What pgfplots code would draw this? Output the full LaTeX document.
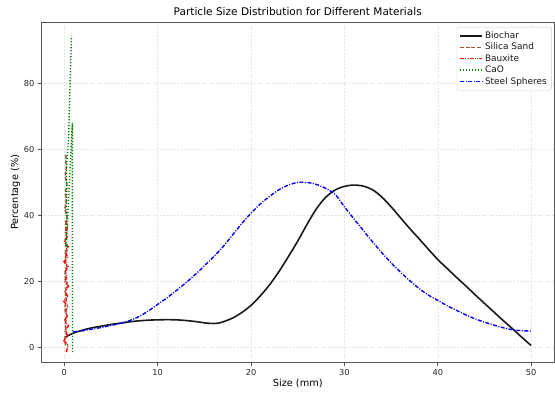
\documentclass[border=0pt]{standalone}
\usepackage{pgfplots}
\pgfplotsset{compat=1.18}
\usepackage{fontspec}
\setmainfont{DejaVu Sans}
\definecolor{sienna}{HTML}{A0522D}
\definecolor{mgreen}{HTML}{008000}
\definecolor{spine}{HTML}{555555}
\begin{document}
\begin{tikzpicture}
\begin{axis}[
  name=ax,
  scale only axis,
  width=514bp, height=341bp,
  xmin=-2.5, xmax=52.5, ymin=-4.7, ymax=98.7,
  xtick={0,10,20,30,40,50},
  ytick={0,20,40,60,80},
  tick align=outside,
  major tick length=3bp,
  tick style={spine, line width=0.6bp},
  axis line style={spine, line width=0.7bp},
  xtick pos=bottom, ytick pos=left,
  /pgf/number format/assume math mode=true,
  tick label style={font=\fontsize{8.3}{10}\selectfont, text=black!85},
  grid=major,
  major grid style={gray!22, dash pattern=on 2bp off 1.5bp, line width=0.5bp},
  title={Particle Size Distribution for Different Materials},
  title style={font=\fontsize{10.6}{13}\selectfont, yshift=-3bp},
  xlabel={Size (mm)},
  ylabel={Percentage (\%)},
  label style={font=\fontsize{9.8}{12}\selectfont},
  xlabel style={yshift=3bp},
  ylabel style={yshift=-3bp},
  legend style={at={(1,1)}, anchor=north east, xshift=-3bp, yshift=-5bp,
    draw=gray!40, rounded corners=2pt, font=\fontsize{9}{10}\selectfont,
    row sep=-0.8bp, inner sep=2.5bp, text=black!90},
  legend cell align=left,
  legend image code/.code={\draw[#1] (0bp,0bp) -- (15bp,0bp); \path (0bp,0bp) -- (22bp,0bp);},
  clip=true,
]
% Biochar
\addplot[black!90, line width=1.6bp, smooth, tension=0.5] coordinates {
(0.05,3.0) (1,4.3) (2,5.2) (3,5.9) (4,6.4) (5,6.9) (6,7.3) (7,7.7) (8,8.0) (9,8.2)
(10,8.3) (11,8.35) (12,8.3) (13,8.1) (14,7.8) (15,7.4) (15.5,7.25) (16,7.2) (16.5,7.3)
(17,7.7) (18,8.8) (19,10.5) (20,12.7) (21,15.6) (22,19.0) (23,23) (24,27.5) (25,32.2)
(26,37.3) (27,42) (28,45.5) (29,47.7) (30,48.8) (31,49.2) (32,48.9) (33,47.8) (34,45.6)
(35,42.6) (36,39.3) (37,36) (38,32.9) (39,29.7) (40,26.6) (41,23.9) (42,21.2) (43,18.6)
(44,15.9) (45,13.3) (46,10.7) (47,8.1) (48,5.6) (49,3.0) (50,0.5)
};
\addlegendentry{Biochar}
% Silica Sand
\addplot[sienna, line width=1.4bp, dash pattern=on 4bp off 1.6bp] coordinates {
(0.15,0.5) (0.05,2.5) (0.25,4.5) (0.10,7) (0.28,9.5) (0.06,12) (0.22,14.5) (0.12,17)
(0.30,19.5) (0.05,22) (0.24,24.5) (0.11,27) (0.29,29.5) (0.08,32) (0.23,34.5) (0.13,37)
(0.30,39.5) (0.06,42) (0.21,44.5) (0.12,47) (0.27,49.5) (0.09,52) (0.22,54.5) (0.15,56.5) (0.18,58.5)
};
\addlegendentry{Silica Sand}
% Bauxite
\addplot[red, line width=1.4bp, dash pattern=on 4bp off 1.2bp on 1bp off 1.2bp on 1bp off 1.2bp] coordinates {
(0.20,-1.5) (0.42,0.5) (-0.05,2) (0.35,3.5) (0.05,5) (0.45,6.5) (0.00,8) (0.30,9.5)
(0.10,11) (0.40,12.5) (-0.08,14) (0.33,15.5) (0.08,17) (0.44,18.5) (0.02,20) (0.28,21.5)
(0.12,23) (0.40,24.5) (-0.04,26) (0.35,27.5) (0.06,29) (0.42,30.5) (0.01,32) (0.30,33.5)
(0.10,35) (0.38,36.5) (0.15,38.5)
};
\addlegendentry{Bauxite}
% CaO
\addplot[mgreen, line width=1.4bp, dash pattern=on 1.2bp off 1.8bp] coordinates {
(0.88,-1.5) (0.88,10) (0.87,25) (0.87,40) (0.87,55) (0.86,68)
(0.20,30) (0.30,36) (0.18,42) (0.28,48) (0.22,53) (0.32,58) (0.45,63) (0.52,70)
(0.60,78) (0.68,86) (0.77,94.5)
};
\addlegendentry{CaO}
% Steel Spheres
\addplot[blue, line width=1.4bp, dash pattern=on 4bp off 1.5bp on 1bp off 1.5bp, smooth, tension=0.5] coordinates {
(0.95,4.7) (1.5,4.8) (2,5.0) (3,5.5) (4,6.0) (5,6.6) (6,7.2) (7,8.1) (8,9.3) (9,11)
(10,13) (11,15) (12,17.2) (13,19.5) (14,22) (15,24.7) (16,27.5) (17,30.5) (18,34)
(19,37.5) (20,40.7) (21,43.5) (22,45.8) (23,47.8) (24,49.2) (25,50.0) (26,50.0)
(27,49.4) (28,48.2) (29,46.4) (30,42.6) (31,39) (32,35.5) (33,32) (34,28.7) (35,25.6)
(36,22.8) (37,20.2) (38,17.8) (39,15.8) (40,14.2) (41,12.6) (42,11.2) (43,9.8)
(44,8.6) (45,7.6) (46,6.7) (47,5.9) (48,5.3) (49,5.0) (50,4.9)
};
\addlegendentry{Steel Spheres}
\end{axis}
\pgfresetboundingbox
\path[use as bounding box] ([xshift=-41bp,yshift=-31bp]ax.south west) rectangle ([xshift=0.5bp,yshift=22bp]ax.north east);
\end{tikzpicture}
\end{document}
